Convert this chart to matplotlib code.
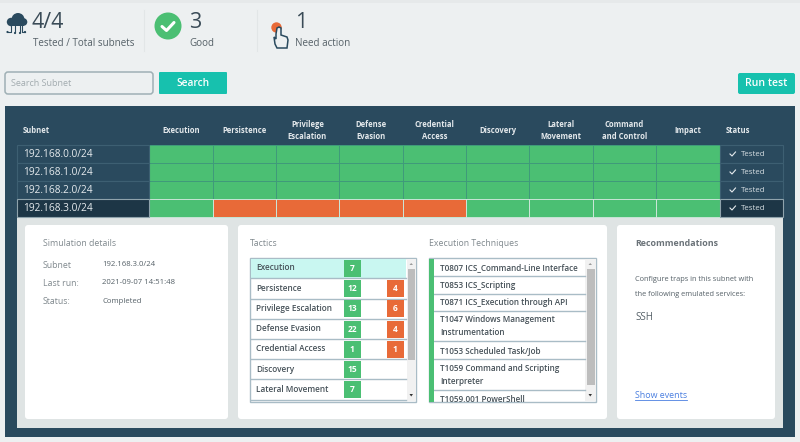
import numpy as np
import matplotlib
matplotlib.use("Agg")
from matplotlib import pyplot as plt
from matplotlib.colors import ListedColormap
from matplotlib.patches import Rectangle, FancyBboxPatch, Circle, Polygon

plt.rcParams['font.family'] = ['Open Sans', 'DejaVu Sans']

DARK = '#2a4a5e'
DARKER = '#1d3646'
GREEN = '#4bbf73'
RED = '#e86a38'
TEAL = '#17c1ae'
BG = '#edf0f1'
INNER = '#dfe4e4'
TEXT = '#566168'
GREY = '#80898e'

# summary numbers
summary_values = ['4/4', '3', '1']
summary_labels = ['Tested / Total subnets', 'Good', 'Need action']

# table
subnets = ['192.168.0.0/24', '192.168.1.0/24', '192.168.2.0/24', '192.168.3.0/24']
tactic_headers = ['Execution', 'Persistence', 'Privilege\nEscalation', 'Defense\nEvasion', 'Credential\nAccess',
                  'Discovery', 'Lateral\nMovement', 'Command\nand Control', 'Impact']
# 0 = good, 1 = needs action
status_grid = [[0, 0, 0, 0, 0, 0, 0, 0, 0],
               [0, 0, 0, 0, 0, 0, 0, 0, 0],
               [0, 0, 0, 0, 0, 0, 0, 0, 0],
               [0, 1, 1, 1, 1, 0, 0, 0, 0]]
status_text = ['Tested', 'Tested', 'Tested', 'Tested']

# tactics list
tactic_names = ['Execution', 'Persistence', 'Privilege Escalation', 'Defense Evasion',
                'Credential Access', 'Discovery', 'Lateral Movement']
good_counts = [7, 12, 13, 22, 1, 15, 7]
bad_counts = [0, 4, 6, 4, 1, 0, 0]

# techniques list
techniques = ['T0807 ICS_Command-Line Interface', 'T0853 ICS_Scripting', 'T0871 ICS_Execution through API',
              'T1047 Windows Management\nInstrumentation', 'T1053 Scheduled Task/Job',
              'T1059 Command and Scripting\nInterpreter']

details_labels = ['Subnet', 'Last run:', 'Status:']
details_values = ['192.168.3.0/24', '2021-09-07 14:51:48', 'Completed']

fig = plt.figure(figsize=(8, 4.42), dpi=100, facecolor=BG)
ax = fig.add_axes([0, 0, 1, 1])
ax.set_xlim(0, 800)
ax.set_ylim(442, 0)
ax.axis('off')


def box(x0, y0, x1, y1, color, edge='none', lw=0, z=1):
    ax.add_patch(Rectangle((x0, y0), x1 - x0, y1 - y0, facecolor=color, edgecolor=edge, linewidth=lw, zorder=z))


def rbox(x0, y0, x1, y1, color, edge='none', lw=0, r=3, z=1):
    ax.add_patch(FancyBboxPatch((x0 + r, y0 + r), x1 - x0 - 2 * r, y1 - y0 - 2 * r,
                                boxstyle='round,pad=%d' % r, facecolor=color, edgecolor=edge, linewidth=lw, zorder=z))


def label(x, y, s, size=7, color=TEXT, ha='left', va='center', z=6, **kw):
    ax.text(x, y, s, fontsize=size, color=color, ha=ha, va=va, zorder=z, **kw)


# top strip
box(0, 0, 800, 3, '#e6e9ea')
ax.plot([144, 144], [10, 51], color='#e2e6e7', lw=0.8)
ax.plot([257, 257], [10, 51], color='#e2e6e7', lw=0.8)

# cloud icon
for cx, cy, r in [(11, 22, 4.2), (18, 19.5, 6.5), (23.5, 22, 3.8)]:
    ax.add_patch(Circle((cx, cy), r, color=DARK, zorder=3, lw=0))
box(10, 21, 24, 26, DARK, z=3)
for xs, ys, end in [([11, 11, 7.5], [26, 32, 32], (7.5, 32)), ([15, 15], [26, 32], (15, 33)),
                    ([20, 20], [26, 32], (20, 33)), ([22, 22, 25], [26, 32, 32], (25, 32))]:
    ax.plot(xs, ys, color=DARK, lw=0.8, zorder=3)
    ax.add_patch(Circle(end, 1.1, color=DARK, zorder=3, lw=0))

# check icon
ax.add_patch(Circle((168, 26), 13.5, color=GREEN, zorder=3, lw=0))
ax.plot([162, 166.5, 174], [26.5, 30.5, 22.5], color='white', lw=2.2, zorder=4, solid_capstyle='round')

# hand icon
ax.add_patch(Circle((276.5, 27.5), 5.2, color=RED, zorder=3, lw=0))
ax.add_patch(Polygon([(276, 34), (276, 39), (274, 37), (275, 44), (277, 48), (287, 48), (288, 40), (287, 37),
                      (281, 35), (281, 28), (279, 27), (277, 28)], closed=True, facecolor=BG, edgecolor=DARK,
                     lw=1.1, zorder=4))

# numbers above the labels
for x, v, s in zip([32, 189, 295], summary_values, summary_labels):
    label(x, 23, v, size=15.5, color='#3a4b57')
    label(x + 1 if x == 32 else x, 44, s, size=7.15, color=TEXT)

# search row
rbox(5, 72, 153, 94, BG, edge='#9fb0b5', lw=1.1, r=3)
label(11, 83, 'Search Subnet', size=6.5, color='#a2abaf')
rbox(159, 72, 227, 94, TEAL, r=1)
label(193, 83, 'Search', size=7.3, color='white', ha='center', fontweight='semibold')
rbox(738, 73, 795, 94, TEAL, r=2)
label(766, 84, 'Run test', size=7.6, color='white', ha='center', fontweight='semibold')

# main panel
box(5, 106, 795, 437, DARK)
box(17, 217, 783, 428, INNER)

# table header
col_edges = [149, 212.5, 276, 339, 402.5, 466, 529, 593, 656, 720]
row_edges = [145, 163, 181, 199, 217]
label(23, 130.5, 'Subnet', size=5.5, color='#e4e9ec', fontweight='bold')
for i, h in enumerate(tactic_headers):
    label((col_edges[i] + col_edges[i + 1]) / 2, 130.5, h, size=5.5, color='#e4e9ec', ha='center',
          fontweight='bold', linespacing=1.45)
label(737.5, 130.5, 'Status', size=5.5, color='#e4e9ec', ha='center', fontweight='bold')

# heat cells
ax.pcolormesh(col_edges, row_edges, np.array(status_grid), cmap=ListedColormap([GREEN, RED]), vmin=0, vmax=1,
              edgecolors='#3f9a7a', linewidth=0.7, zorder=2)
ax.plot([149, 720, 720, 149, 149], [199, 199, 217, 217, 199], color='#c9e6d6', lw=0.7, zorder=3)
for x in col_edges[1:-1]:
    ax.plot([x, x], [199, 217], color='#cfe8da', lw=0.7, zorder=3)

# subnet and status columns
for i, s in enumerate(subnets):
    y0, y1 = row_edges[i], row_edges[i + 1]
    last = i == len(subnets) - 1
    fill = DARKER if last else DARK
    line = '#8fa3ac' if last else '#3d5f72'
    box(17, y0, 149, y1, fill, edge=line, lw=0.8, z=3)
    box(720, y0, 783, y1, fill, edge=line, lw=0.8, z=3)
    label(23.5, (y0 + y1) / 2 + 0.3, s, size=7.3, color='#e6ebee')
    label(741, (y0 + y1) / 2 + 0.3, status_text[i], size=5.7, color='#d8e0e4')
    cy = (y0 + y1) / 2
    ax.plot([730, 732, 735.5], [cy, cy + 2, cy - 2], color='#e6ebee', lw=0.8, zorder=6)

# cards
rbox(25, 225, 228, 419, 'white', r=3, z=2)
rbox(238, 225, 607, 419, 'white', r=3, z=2)
rbox(617, 225, 775, 419, 'white', r=3, z=2)

# details card
label(43, 243.5, 'Simulation details', size=6.3, color=GREY)
for lab, val, y in zip(details_labels, details_values, [265, 283, 302]):
    label(43, y, lab, size=6.3, color=GREY)
    label(102.5, y - 0.7, val, size=5.6, color=TEXT)

# tactics card
label(250, 243.5, 'Tactics', size=6.3, color=GREY)
box(250, 258, 416, 402, 'white', edge='#a9bcc6', lw=1, z=3)
box(407, 259, 416, 401, '#f1f1f1', z=4)
box(407.5, 269, 414.5, 360, '#bdbdbd', z=5)
rh = 20.2
for i, name in enumerate(tactic_names):
    y0 = 258.5 + i * rh
    y1 = y0 + rh
    if i == 0:
        box(250.5, y0, 406, y1 - 0.8, '#c9f7f1', z=4)
    ax.plot([250.5, 406], [y1 - 0.3, y1 - 0.3], color='#a9bcc6', lw=1, zorder=4)
    label(256, y0 + 9.5, name, size=5.95, color='#465158', fontweight='semibold')
    box(344, y0 + 1.5, 360.5, y0 + 18.5, GREEN, z=5)
    label(352.4, y0 + 10, str(good_counts[i]), size=6, color='white', ha='center', fontweight='bold')
    if bad_counts[i] > 0:
        box(387, y0 + 1.5, 403.5, y0 + 18.5, RED, z=5)
        label(395.2, y0 + 10, str(bad_counts[i]), size=6, color='white', ha='center', fontweight='bold')
ax.add_patch(Polygon([(409.5, 265), (413, 265), (411.2, 263)], color='#9a9a9a', zorder=6, lw=0))
ax.add_patch(Polygon([(409.5, 394), (413, 394), (411.2, 396.5)], color='#333333', zorder=6, lw=0))

# techniques card
label(429, 243.5, 'Execution Techniques', size=6.3, color=GREY)
box(429, 258, 596, 402, 'white', edge='#a9bcc6', lw=1, z=3)
box(429, 258.5, 433.5, 401.5, GREEN, z=5)
box(585, 259, 596, 401, '#f1f1f1', z=4)
box(586.5, 269, 594.5, 385, '#bdbdbd', z=5)
sep_y = [276, 293.7, 311, 341, 359, 390]
prev = 258
for t, y in zip(techniques, sep_y):
    label(440, (prev + y) / 2 + 0.2, t, size=5.9, color='#465158', fontweight='semibold', linespacing=1.6)
    ax.plot([433.5, 585], [y, y], color='#a9bcc6', lw=1, zorder=4)
    prev = y
ax.text(440, 399, 'T1059.001 PowerShell', fontsize=5.9, color='#465158', va='center', fontweight='semibold',
        zorder=4, clip_on=True, clip_path=Rectangle((433, 258), 152, 143.5, transform=ax.transData))
ax.add_patch(Polygon([(588.5, 265), (592, 265), (590.2, 263)], color='#9a9a9a', zorder=6, lw=0))
ax.add_patch(Polygon([(588.5, 394), (592, 394), (590.2, 396.5)], color='#333333', zorder=6, lw=0))

# recommendations
label(635, 243.5, 'Recommendations', size=6.4, color='#6a7278', fontweight='bold')
label(635, 279.5, 'Configure traps in this subnet with', size=5.35, color=TEXT)
label(635, 294, 'the following emulated services:', size=5.35, color=TEXT)
label(635, 317.5, 'SSH', size=7, color=TEXT)
label(635, 395, 'Show events', size=6.4, color='#4a7fe0')
ax.plot([635, 687], [400, 400], color='#4a7fe0', lw=0.6, zorder=6)

fig.savefig('out.png', dpi=100, facecolor=BG)
